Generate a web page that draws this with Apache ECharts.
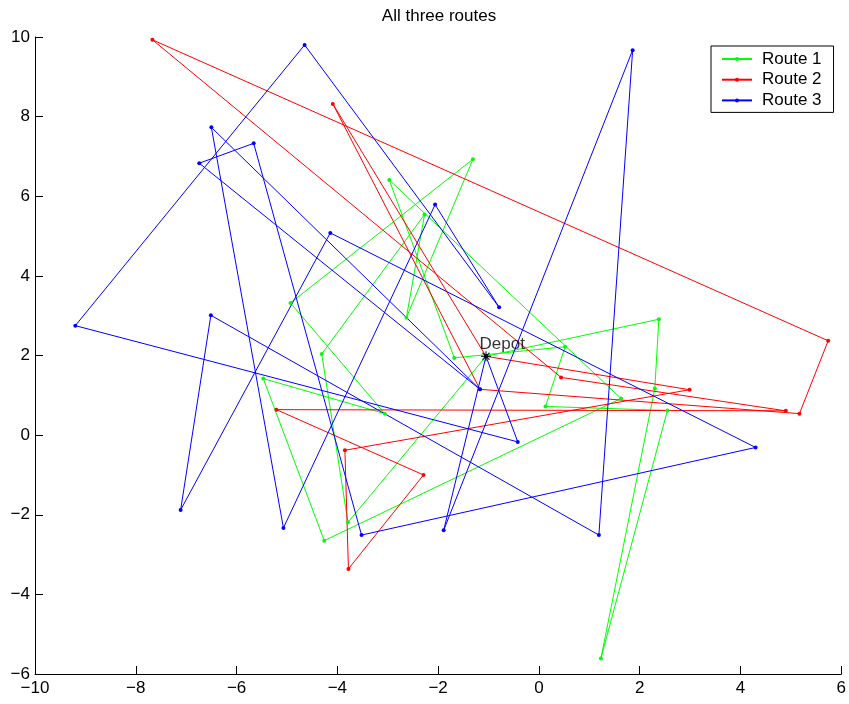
<!DOCTYPE html>
<html>
<head>
<meta charset="utf-8">
<script src="https://cdn.jsdelivr.net/npm/echarts@6/dist/echarts.min.js"></script>
<style>
  html, body { margin: 0; padding: 0; background: #fff; }
  #chart { width: 849px; height: 704px; }
</style>
</head>
<body>
<div id="chart"></div>
<script>
// depot, shared start / end of every route
var depotX = -1.05, depotY = 1.98;

// route 1 (green) customers, in visiting order
var route1X = [2.38, 2.30, 1.23, 2.55, 0.13, 0.52, -1.68, -2.97, 1.63, -4.26, -5.47, -3.06, -4.93, -1.31, -2.63, -2.27, -4.31, -3.79];
var route1Y = [2.91, 1.17, -5.61, 0.62, 0.72, 2.22, 1.94, 6.41, 0.92, -2.65, 1.42, 0.54, 3.32, 6.93, 2.95, 5.54, 2.04, -2.19];

// route 2 (red)
var route2X = [-4.09, -1.17, 5.17, 5.74, -7.67, 0.44, 4.90, -5.21, -2.29, -3.78, -3.85, 2.99];
var route2Y = [8.32, 1.15, 0.54, 2.37, 9.93, 1.45, 0.61, 0.64, -1.00, -3.36, -0.38, 1.14];

// route 3 (blue)
var route3X = [-0.42, -9.20, -4.65, -0.79, -2.06, -5.07, -6.50, -1.17, -6.74, -5.66, -3.52, 4.30, -4.14, -7.11, -6.51, 1.19, 1.86, -1.89];
var route3Y = [-0.17, 2.75, 9.80, 3.21, 5.79, -2.33, 7.73, 1.15, 6.83, 7.33, -2.51, -0.31, 5.08, -1.88, 3.01, -2.51, 9.67, -2.39];

var routeNames = ['Route 1', 'Route 2', 'Route 3'];
var routeColors = ['#00ff00', '#ff0000', '#0000ff'];

var FONT = 'Liberation Sans';

// depot -> customers -> depot
function makeRoute(xs, ys) {
  var pts = [[depotX, depotY]];
  for (var i = 0; i < xs.length; i++) {
    pts.push([xs[i], ys[i]]);
  }
  pts.push([depotX, depotY]);
  return pts;
}

function tickFmt(v) {
  return v < 0 ? '\u2212' + Math.abs(v) : String(v);
}

var routes = [makeRoute(route1X, route1Y), makeRoute(route2X, route2Y), makeRoute(route3X, route3Y)];

var series = routes.map(function (pts, i) {
  return {
    name: routeNames[i],
    type: 'line',
    data: pts,
    symbol: 'circle',
    symbolSize: 4,
    showAllSymbol: true,
    lineStyle: { width: 1, color: routeColors[i] },
    itemStyle: { color: routeColors[i] },
    emphasis: { disabled: true }
  };
});

// depot marker (asterisk) with its label
series.push({
  name: 'Depot',
  type: 'scatter',
  data: [[depotX, depotY]],
  symbol: 'path://M5 0L5 10M0 5L10 5M1.5 1.5L8.5 8.5M8.5 1.5L1.5 8.5',
  symbolSize: 10,
  itemStyle: { color: 'none', borderColor: '#000', borderWidth: 1.2 },
  label: {
    show: true,
    formatter: 'Depot',
    position: [1, 4],
    align: 'left',
    verticalAlign: 'bottom',
    color: '#000',
    fontFamily: FONT,
    fontSize: 17
  },
  z: 5,
  emphasis: { disabled: true }
});

var chart = echarts.init(document.getElementById('chart'));
chart.setOption({
  animation: false,
  backgroundColor: '#fff',
  title: {
    text: 'All three routes',
    left: 439,
    textAlign: 'center',
    top: 8,
    padding: 0,
    textStyle: { fontFamily: FONT, fontSize: 17, fontWeight: 'normal', color: '#000' }
  },
  legend: {
    data: routeNames,
    orient: 'vertical',
    left: 711,
    top: 46,
    padding: [4, 12, 3, 10],
    itemGap: 2.7,
    itemWidth: 30,
    itemHeight: 5,
    backgroundColor: '#fff',
    borderColor: '#000',
    borderWidth: 1,
    textStyle: { fontFamily: FONT, fontSize: 17, lineHeight: 18, color: '#000', padding: [0, 0, 0, 5] }
  },
  grid: { left: 35, right: 6, top: 37, bottom: 30 },
  xAxis: {
    type: 'value',
    min: -10,
    max: 6,
    interval: 2,
    axisLine: { onZero: false, lineStyle: { color: '#000', width: 1 } },
    axisTick: { inside: true, length: 8, lineStyle: { color: '#000' } },
    axisLabel: { formatter: tickFmt, margin: 6, color: '#000', fontFamily: FONT, fontSize: 17, showMinLabel: true, showMaxLabel: true },
    splitLine: { show: false }
  },
  yAxis: {
    type: 'value',
    min: -6,
    max: 10,
    interval: 2,
    axisLine: { onZero: false, lineStyle: { color: '#000', width: 1 } },
    axisTick: { inside: true, length: 8, lineStyle: { color: '#000' } },
    axisLabel: { formatter: tickFmt, margin: 5, color: '#000', fontFamily: FONT, fontSize: 17, showMinLabel: true, showMaxLabel: true },
    splitLine: { show: false }
  },
  series: series
});
</script>
</body>
</html>
